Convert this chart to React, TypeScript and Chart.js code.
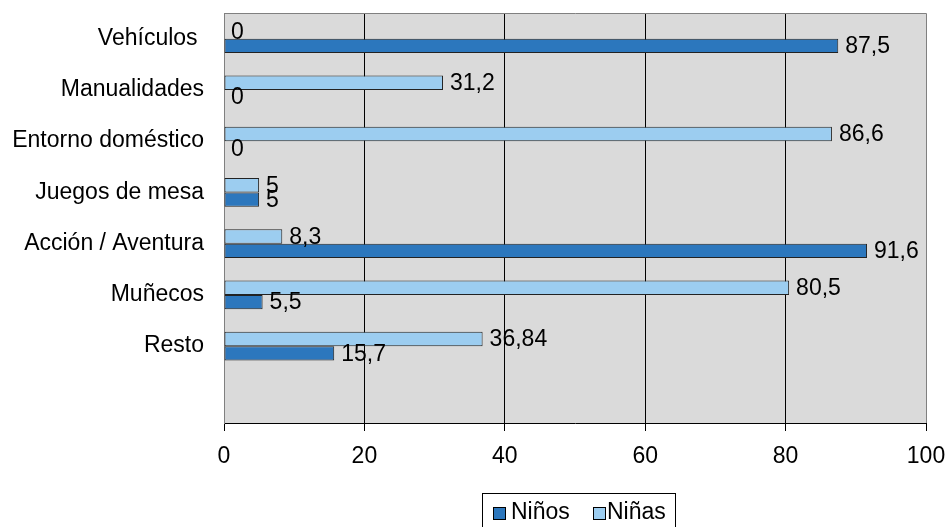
import React, { useEffect, useRef } from "react";
import { Chart, registerables } from "chart.js";
Chart.register(...registerables);

const categories = ["Vehículos ", "Manualidades", "Entorno doméstico", "Juegos de mesa", "Acción / Aventura", "Muñecos", "Resto", ""];
const ninos: (number | null)[] = [87.5, 0, 0, 5, 91.6, 5.5, 15.7, null];
const ninas: (number | null)[] = [0, 31.2, 86.6, 5, 8.3, 80.5, 36.84, null];
const xMin = 0;
const xMax = 100;
const xStep = 20;
const legendLabels = ["Niños", "Niñas"];

const FONT = "'Liberation Sans', Arial, sans-serif";
const C_NINOS = "#2c77bd";
const C_NINAS = "#9ccdf0";

export default function App() {
  const ref = useRef<HTMLCanvasElement | null>(null);
  useEffect(() => {
    document.body.style.margin = "0";
    const canvas = ref.current!;
    const bgPlugin = {
      id: "bg",
      beforeDraw(chart: any) {
        const { ctx, chartArea: a } = chart;
        ctx.save();
        ctx.fillStyle = "#dadada";
        ctx.fillRect(a.left, a.top, a.right - a.left, a.bottom - a.top);
        ctx.restore();
      },
      afterDraw(chart: any) {
        const { ctx, chartArea: a } = chart;
        ctx.save();
        ctx.strokeStyle = "#808080";
        ctx.lineWidth = 1;
        ctx.beginPath();
        ctx.moveTo(Math.round(a.left) + 0.5, Math.round(a.top) + 0.5);
        ctx.lineTo(Math.round(a.right) + 0.5, Math.round(a.top) + 0.5);
        ctx.lineTo(Math.round(a.right) + 0.5, Math.round(a.bottom));
        ctx.stroke();
        // legend
        const lx = 482.5, ly = 493.5, lw = 193, lh = 40;
        ctx.strokeStyle = "#000";
        ctx.strokeRect(lx, ly, lw, lh);
        const items = [
          { t: legendLabels[0], c: C_NINOS, bx: 493, tx: 511 },
          { t: legendLabels[1], c: C_NINAS, bx: 593, tx: 607 },
        ];
        ctx.font = `23px ${FONT}`;
        ctx.textBaseline = "middle";
        ctx.textAlign = "left";
        items.forEach((it) => {
          ctx.fillStyle = it.c;
          ctx.fillRect(it.bx, 507, 12, 12);
          ctx.strokeStyle = "#000";
          ctx.strokeRect(it.bx + 0.5, 507.5, 12, 12);
          ctx.fillStyle = "#000";
          ctx.fillText(it.t, it.tx, 513);
        });
        ctx.restore();
      },
    };
    const labelPlugin = {
      id: "vals",
      afterDatasetsDraw(chart: any) {
        const { ctx } = chart;
        ctx.save();
        ctx.font = `23px ${FONT}`;
        ctx.fillStyle = "#000";
        ctx.textAlign = "left";
        ctx.textBaseline = "middle";
        chart.data.datasets.forEach((ds: any, di: number) => {
          const meta = chart.getDatasetMeta(di);
          meta.data.forEach((bar: any, i: number) => {
            const v = ds.data[i];
            if (v === null || v === undefined) return;
            ctx.fillText(String(v).replace(".", ","), bar.x + 7, bar.y + 1);
          });
        });
        ctx.restore();
      },
    };
    const chart = new Chart(canvas, {
      type: "bar",
      data: {
        labels: categories,
        datasets: [
          {
            label: legendLabels[1],
            data: ninas,
            backgroundColor: C_NINAS,
            borderColor: "#222",
            borderWidth: 1,
            borderSkipped: false,
            categoryPercentage: 0.56,
            barPercentage: 1,
          },
          {
            label: legendLabels[0],
            data: ninos,
            backgroundColor: C_NINOS,
            borderColor: "#222",
            borderWidth: 1,
            borderSkipped: false,
            categoryPercentage: 0.56,
            barPercentage: 1,
          },
        ],
      },
      options: {
        indexAxis: "y",
        animation: false,
        responsive: false,
        maintainAspectRatio: false,
        layout: { padding: { top: 13, left: 0, right: 22, bottom: 0 } },
        plugins: { legend: { display: false }, tooltip: { enabled: false } },
        scales: {
          x: {
            min: xMin,
            max: xMax,
            ticks: { stepSize: xStep, color: "#000", font: { size: 23, family: FONT }, padding: 12, maxRotation: 0 },
            grid: {
              color: (c: any) => (c.tick && (c.tick.value === xMin || c.tick.value === xMax) ? "rgba(0,0,0,0)" : "#000"),
              tickColor: "#000",
              tickLength: 8,
              lineWidth: 1,
            },
            border: { color: "#000", width: 1 },
            afterFit: (s: any) => {
              s.height = 104;
              s.paddingLeft = 0;
              s.paddingRight = 0;
            },
          },
          y: {
            ticks: { color: "#000", font: { size: 23, family: FONT }, padding: 20, autoSkip: false },
            grid: { display: false, drawTicks: false },
            border: { color: "#808080", width: 1 },
            afterFit: (s: any) => {
              s.width = 224;
              s.paddingTop = 0;
              s.paddingBottom = 0;
            },
          },
        },
      },
      plugins: [bgPlugin, labelPlugin],
    });
    return () => chart.destroy();
  }, []);
  return <canvas ref={ref} width={948} height={527} style={{ display: "block" }} />;
}
